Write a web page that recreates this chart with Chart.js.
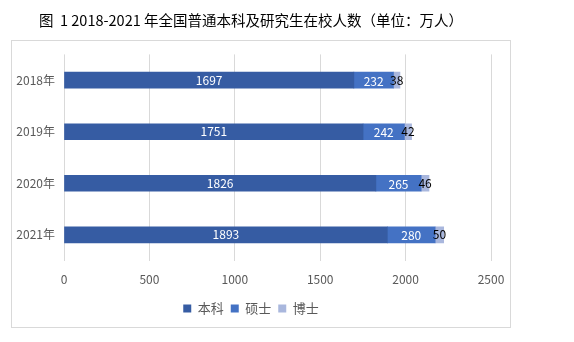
<!DOCTYPE html>
<html lang="zh-CN">
<head>
    <meta charset="UTF-8">
    <script src="https://cdn.jsdelivr.net/npm/chart.js"></script>
    <title>在校人数</title>
    <style>
        html, body { margin: 0; padding: 0; background: #fff; }
        #box { width: 574px; height: 342px; }
    </style>
</head>
<body>
    <div id="box"><canvas id="grafico"></canvas></div>

<script>
    var anos = ['2018年', '2019年', '2020年', '2021年'];
    var benke = [1697, 1751, 1826, 1893];
    var shuoshi = [232, 242, 265, 280];
    var boshi = [38, 42, 46, 50];
    var xTicks = [0, 500, 1000, 1500, 2000, 2500];

    var fonte = '"Noto Sans CJK SC", "Noto Sans", sans-serif';
    var cinza = '#595959';

    // moldura cinza em volta do gráfico
    var moldura = {
        id: 'moldura',
        beforeDraw: function (chart) {
            var ctx = chart.ctx;
            ctx.save();
            ctx.fillStyle = '#fff';
            ctx.fillRect(0, 0, chart.width, chart.height);
            ctx.strokeStyle = '#d9d9d9';
            ctx.lineWidth = 1;
            ctx.strokeRect(11.5, 40.5, 499, 287);
            ctx.restore();
        }
    };

    // rótulos dentro das barras
    var rotulos = {
        id: 'rotulos',
        afterDatasetsDraw: function (chart) {
            var ctx = chart.ctx;
            ctx.save();
            ctx.font = '12px ' + fonte;
            ctx.textAlign = 'center';
            ctx.textBaseline = 'middle';
            chart.data.datasets.forEach(function (ds, i) {
                var meta = chart.getDatasetMeta(i);
                meta.data.forEach(function (bar, j) {
                    var x = (bar.x + bar.base) / 2;
                    ctx.fillStyle = i == 2 ? '#000' : '#fff';
                    ctx.fillText(ds.data[j], x, bar.y + (i == 1 ? 1 : 0));
                });
            });
            ctx.restore();
        }
    };

    var data = {
        labels: anos,
        datasets: [{
            label: '本科',
            backgroundColor: '#365CA3',
            data: benke
        },
        {
            label: '硕士',
            backgroundColor: '#4472C4',
            data: shuoshi
        },
        {
            label: '博士',
            backgroundColor: '#A9B7DD',
            data: boshi
        }]
    };

    var config = {
        type: 'bar',
        data: data,
        options: {
            indexAxis: 'y',
            responsive: false,
            animation: false,
            layout: {
                padding: { left: 11, right: 83, top: 0, bottom: 17 }
            },
            datasets: {
                bar: { barThickness: 16 }
            },
            plugins: {
                title: {
                    display: true,
                    text: '图  1 2018-2021 年全国普通本科及研究生在校人数（单位：万人）',
                    font: { family: fonte, size: 14.5, weight: 'normal' },
                    color: '#000',
                    padding: { top: 12, bottom: 25 }
                },
                legend: {
                    position: 'bottom',
                    labels: {
                        boxWidth: 8,
                        boxHeight: 8,
                        padding: 7,
                        color: cinza,
                        font: { family: fonte, size: 13 }
                    }
                },
                tooltip: { enabled: false }
            },
            scales: {
                x: {
                    stacked: true,
                    min: 0,
                    max: 2500,
                    afterBuildTicks: function (scale) {
                        scale.ticks = xTicks.map(function (v) { return { value: v }; });
                    },
                    afterFit: function (scale) { scale.height -= 4; },
                    border: { display: false },
                    grid: { color: '#d9d9d9', drawTicks: false },
                    ticks: {
                        color: cinza,
                        padding: 12,
                        font: { family: fonte, size: 12 },
                        callback: function (v) { return String(v); }
                    }
                },
                y: {
                    stacked: true,
                    afterFit: function (scale) { scale.width = 53; },
                    border: { display: false },
                    grid: { display: false, drawTicks: false },
                    ticks: {
                        color: cinza,
                        padding: 9,
                        font: { family: fonte, size: 12 }
                    }
                }
            }
        },
        plugins: [moldura, rotulos]
    };

    var canvas = document.getElementById('grafico');
    canvas.width = 574;
    canvas.height = 342;
    var meuGrafico = new Chart(canvas, config);
</script>
</body>
</html>
